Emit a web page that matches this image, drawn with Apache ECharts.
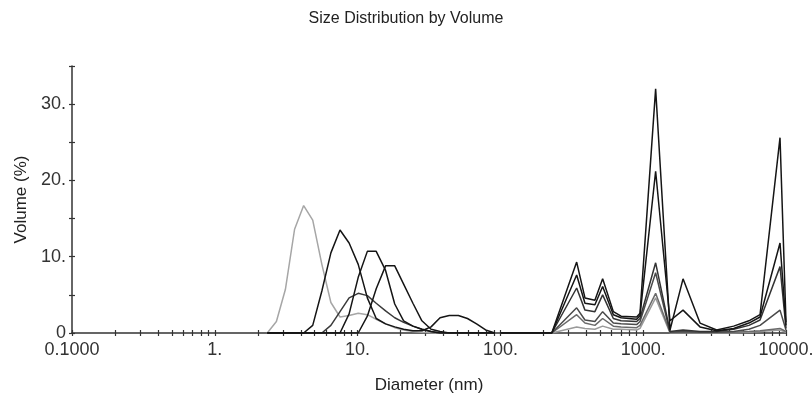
<!DOCTYPE html>
<html>
<head>
<meta charset="utf-8">
<script src="https://cdn.jsdelivr.net/npm/echarts@6/dist/echarts.min.js"></script>
<style>
  html, body { margin: 0; padding: 0; background: #fff; }
  #main { width: 812px; height: 400px; }
</style>
</head>
<body>
<div id="main"></div>
<script>
// diameters (nm) where the small-size curves have vertices
const lowSizes = [2.33, 2.70, 3.12, 3.62, 4.19, 4.85, 5.62, 6.50, 7.53, 8.72, 10.1, 11.7, 13.5, 15.7,
  18.2, 21.0, 24.4, 28.2, 32.7, 37.8, 43.8, 50.8, 58.8, 68.1, 78.8, 91.3];
const lowGray = [0, 1.5, 5.7, 13.6, 16.7, 14.8, 9.0, 4.0, 2.1, 2.3, 2.6, 2.4, 1.8, 1.2,
  0.7, 0.4, 0.2, 0.1, 0, 0, 0, 0, 0, 0, 0, 0];
const lowA = [0, 0, 0, 0, 0, 1.0, 5.5, 10.5, 13.5, 11.8, 9.0, 4.6, 1.9, 1.2,
  0.8, 0.5, 0.3, 0.3, 0.8, 2.0, 2.3, 2.3, 1.9, 1.2, 0.4, 0];
const lowB = [0, 0, 0, 0, 0, 0, 0, 0, 0, 2.5, 7.3, 10.7, 10.7, 8.2,
  3.8, 1.6, 0.9, 0.5, 0.2, 0, 0, 0, 0, 0, 0, 0];
const lowC = [0, 0, 0, 0, 0, 0, 0, 0, 0, 0, 0, 2.2, 5.8, 8.8,
  8.8, 6.4, 3.9, 1.6, 0.5, 0.2, 0, 0, 0, 0, 0, 0];
const lowD = [0, 0, 0, 0, 0, 0, 0, 1.0, 2.8, 4.6, 5.2, 4.9, 3.9, 2.9,
  2.0, 1.4, 0.9, 0.5, 0.2, 0, 0, 0, 0, 0, 0, 0];

// diameters (nm) where the large-size curves have vertices
const highSizes = [100, 229, 342, 391, 459, 520, 618, 700, 900, 950, 1222, 1541, 1901, 2500,
  3270, 4300, 5500, 6580, 9080, 10000];
const high1 = [0, 0, 9.3, 4.6, 4.3, 7.1, 2.8, 2.2, 2.1, 2.6, 32.0, 0.4, 7.1, 1.3,
  0.4, 0.9, 1.6, 2.4, 25.6, 1.4];
const high2 = [0, 0, 7.6, 3.9, 3.7, 6.1, 2.4, 2.0, 1.8, 2.3, 21.2, 1.6, 3.0, 0.8,
  0.3, 0.6, 1.3, 2.1, 11.8, 1.0];
const high3 = [0, 0, 5.9, 3.0, 2.8, 5.0, 1.9, 1.6, 1.5, 1.9, 9.2, 0.2, 0.4, 0.2,
  0.2, 0.5, 1.0, 1.7, 8.7, 0.6];
const high4 = [0, 0, 3.3, 1.7, 1.5, 2.8, 1.3, 1.2, 1.1, 1.5, 7.9, 0.1, 0.2, 0.1,
  0.1, 0.2, 0.5, 1.0, 3.0, 0.4];
const high5 = [0, 0, 2.4, 1.3, 1.0, 1.9, 0.9, 0.8, 0.7, 1.0, 5.2, 0.1, 0.1, 0.1,
  0.1, 0.1, 0.2, 0.3, 0.6, 0.2];
const high6 = [0, 0, 0.8, 0.6, 0.5, 0.9, 0.5, 0.5, 0.4, 0.6, 4.6, 0, 0, 0,
  0, 0, 0.1, 0.2, 0.4, 0.1];

const font = "'Liberation Sans', Arial, sans-serif";

function pairs(sizes, vals) {
  return sizes.map((d, i) => [d, vals[i]]);
}

function curve(sizes, vals, color) {
  return {
    type: 'line',
    data: pairs(sizes, vals),
    showSymbol: false,
    silent: true,
    lineStyle: { color: color, width: 1.5 }
  };
}

const chart = echarts.init(document.getElementById('main'));

const tickStyle = { color: '#333', width: 1.2 };
const xBase = {
  type: 'log',
  logBase: 10,
  min: 0.1,
  max: 10000,
  position: 'bottom',
  splitLine: { show: false }
};
const yBase = {
  type: 'value',
  min: 0,
  max: 35,
  interval: 5,
  position: 'left',
  splitLine: { show: false }
};

const option = {
  backgroundColor: '#fff',
  animation: false,
  title: {
    text: 'Size Distribution by Volume',
    left: 'center',
    top: 6,
    textStyle: { fontFamily: font, fontSize: 16, fontWeight: 'normal', color: '#222' }
  },
  grid: { left: 72, right: 26, top: 66, bottom: 67, outerBoundsMode: 'none', containLabel: false },
  xAxis: [
    Object.assign({}, xBase, {
      name: 'Diameter (nm)',
      nameLocation: 'middle',
      nameGap: 44,
      nameTextStyle: { fontFamily: font, fontSize: 17, color: '#222' },
      axisLine: { lineStyle: { color: '#333', width: 1.5 } },
      axisTick: { show: true, length: 3, lineStyle: tickStyle },
      minorTick: { show: true, splitNumber: 9, length: 3, lineStyle: tickStyle },
      axisLabel: {
        margin: 8,
        fontFamily: font,
        fontSize: 18,
        color: '#333',
        formatter: v => (v < 1 ? v.toFixed(4) : v + '.')
      }
    }),
    // same axis again, only to draw the upper half of the crossing ticks
    Object.assign({}, xBase, {
      axisLine: { show: true, onZero: false, lineStyle: { color: '#333', width: 1.5, opacity: 0 } },
      axisLabel: { show: false },
      axisTick: { show: true, inside: true, length: 3, lineStyle: tickStyle },
      minorTick: { show: true, splitNumber: 9, length: 3, lineStyle: tickStyle }
    })
  ],
  yAxis: [
    Object.assign({}, yBase, {
      name: 'Volume (%)',
      nameLocation: 'middle',
      nameGap: 42,
      nameTextStyle: { fontFamily: font, fontSize: 17, color: '#222' },
      axisLine: { show: true, lineStyle: { color: '#333', width: 1.5 } },
      axisTick: { show: true, length: 3, lineStyle: tickStyle },
      axisLabel: {
        margin: 6,
        fontFamily: font,
        fontSize: 18,
        color: '#333',
        formatter: v => (v % 10 !== 0 ? '' : (v === 0 ? '0' : v + '.'))
      }
    }),
    Object.assign({}, yBase, {
      axisLine: { show: true, onZero: false, lineStyle: { color: '#333', width: 1.5, opacity: 0 } },
      axisLabel: { show: false },
      axisTick: { show: true, inside: true, length: 3, lineStyle: tickStyle }
    })
  ],
  series: [
    curve(lowSizes, lowGray, '#a6a6a6'),
    curve(lowSizes, lowD, '#3a3a3a'),
    curve(lowSizes, lowA, '#151515'),
    curve(lowSizes, lowB, '#151515'),
    curve(lowSizes, lowC, '#151515'),
    curve(highSizes, high6, '#9a9a9a'),
    curve(highSizes, high5, '#6a6a6a'),
    curve(highSizes, high4, '#4a4a4a'),
    curve(highSizes, high3, '#333333'),
    curve(highSizes, high2, '#151515'),
    curve(highSizes, high1, '#151515'),
    // empty series so the tick-only axes are used
    { type: 'line', xAxisIndex: 1, yAxisIndex: 1, data: [], silent: true }
  ]
};

chart.setOption(option);
</script>
</body>
</html>
